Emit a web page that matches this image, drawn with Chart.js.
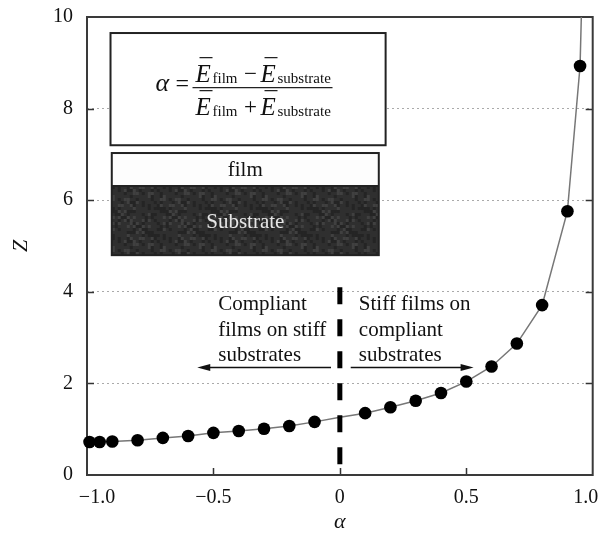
<!DOCTYPE html>
<html><head><meta charset="utf-8">
<script src="https://cdn.jsdelivr.net/npm/chart.js@4/dist/chart.umd.min.js"></script>
<style>html,body{margin:0;padding:0;background:#fff}#wrap{width:599px;height:533px}</style>
</head><body><div id="wrap"><canvas id="c" width="599" height="533"></canvas></div>
<script>
// ---- data ----
const alphaValues = [-0.99,-0.95,-0.9,-0.8,-0.7,-0.6,-0.5,-0.4,-0.3,-0.2,-0.1,0.1,0.2,0.3,0.4,0.5,0.6,0.7,0.8,0.9,0.95];
const zValues     = [0.72,0.72,0.73,0.76,0.81,0.85,0.92,0.96,1.01,1.07,1.16,1.35,1.48,1.62,1.79,2.04,2.37,2.87,3.71,5.76,8.93];
const curveAlpha  = [-0.99,-0.95,-0.9,-0.8,-0.7,-0.6,-0.5,-0.4,-0.3,-0.2,-0.1,0,0.1,0.2,0.3,0.4,0.5,0.6,0.7,0.8,0.9,0.95,0.955];
const curveZ      = [0.72,0.72,0.73,0.76,0.81,0.85,0.92,0.96,1.01,1.07,1.16,1.26,1.35,1.48,1.62,1.79,2.04,2.37,2.87,3.71,5.76,8.93,10];
const dividerAlpha = [0,0];
const dividerZ     = [4.1,0];
const xTickValues = [-1,-0.5,0,0.5,1];
const xTickLabels = ['\u2002\u2002\u22121.0','\u22120.5','0','0.5','1.0\u2002\u2009'];
const yTickValues = [0,2,4,6,8,10];
const yTickLabels = ['0','2','4','6','8','10'];
const leftNote  = ['Compliant','films on stiff','substrates'];
const rightNote = ['Stiff films on','compliant','substrates'];

const SERIF = '"Liberation Serif","Times New Roman",serif';
const pts = (xs, ys) => xs.map((v,i)=>({x:v, y:ys[i]}));

const framePlugin = {
  id:'frame',
  beforeDatasetsDraw(chart){
    const {ctx, chartArea:a, scales:{x,y}} = chart;
    const X = v=>x.getPixelForValue(v), Y = v=>y.getPixelForValue(v);
    ctx.save();
    // inward ticks
    ctx.strokeStyle='#333'; ctx.lineWidth=1.5;
    ctx.beginPath();
    xTickValues.slice(1,-1).forEach(v=>{const p=Math.round(X(v))+0.5; ctx.moveTo(p,a.bottom); ctx.lineTo(p,a.bottom-7);});
    yTickValues.slice(1,-1).forEach(v=>{const p=Math.round(Y(v))+0.5; ctx.moveTo(a.left,p); ctx.lineTo(a.left+7,p); ctx.moveTo(a.right,p); ctx.lineTo(a.right-7,p);});
    ctx.stroke();
    // frame
    ctx.strokeStyle='#3a3a3a'; ctx.lineWidth=2;
    ctx.strokeRect(a.left, a.top, a.right-a.left, a.bottom-a.top);

    // formula box
    const bx0=X(-0.907), bx1=X(0.181), by0=Y(9.65), by1=Y(7.2);
    ctx.fillStyle='#fff'; ctx.fillRect(bx0,by0,bx1-bx0,by1-by0);
    ctx.strokeStyle='#222'; ctx.lineWidth=2; ctx.strokeRect(bx0,by0,bx1-bx0,by1-by0);
    ctx.fillStyle='#111'; ctx.textBaseline='alphabetic'; ctx.textAlign='left';
    ctx.font='italic 26px '+SERIF; ctx.fillText('\u03b1', bx0+45, by0+58);
    ctx.font='24px '+SERIF; ctx.fillText('=', bx0+65, by0+58);
    ctx.lineWidth=1.3; ctx.beginPath(); ctx.moveTo(bx0+82, by0+54.5); ctx.lineTo(bx0+222, by0+54.5); ctx.stroke();
    const row = (base, op) => {
      ctx.font='italic 25px '+SERIF; ctx.fillText('E', bx0+85, base); ctx.fillText('E', bx0+150, base);
      ctx.font='15px '+SERIF; ctx.fillText('film', bx0+102, base+1); ctx.fillText('substrate', bx0+167, base+1);
      ctx.font='23px '+SERIF; ctx.textAlign='center'; ctx.fillText(op, bx0+140, base-1); ctx.textAlign='left';
      ctx.lineWidth=1.2; ctx.beginPath();
      ctx.moveTo(bx0+89, base-24.5); ctx.lineTo(bx0+102, base-24.5);
      ctx.moveTo(bx0+154, base-24.5); ctx.lineTo(bx0+167, base-24.5);
      ctx.stroke();
    };
    row(by0+49, '\u2212');
    row(by0+82, '+');

    // film / substrate box
    const fx0=X(-0.902), fx1=X(0.154), fyTop=Y(7.03), fyMid=Y(6.31), fyBot=Y(4.80);
    ctx.fillStyle='#fdfdfd'; ctx.fillRect(fx0,fyTop,fx1-fx0,fyMid-fyTop);
    ctx.fillStyle='#2f2f2f'; ctx.fillRect(fx0,fyMid,fx1-fx0,fyBot-fyMid);
    // texture (deterministic pattern)
    const cs=3;
    for(let i=0;i*cs<fx1-fx0;i++){
      for(let j=0;j*cs<fyBot-fyMid;j++){
        const h=((i*i*7+j*j*13+i*j*5+i*3+j*11)%17);
        if(h<4){ctx.fillStyle='#242424';} else if(h>13){ctx.fillStyle='#404040';} else continue;
        ctx.fillRect(fx0+i*cs, fyMid+j*cs, Math.min(cs,fx1-fx0-i*cs), Math.min(cs,fyBot-fyMid-j*cs));
      }
    }
    ctx.strokeStyle='#222'; ctx.lineWidth=2;
    ctx.strokeRect(fx0,fyTop,fx1-fx0,fyBot-fyTop);
    ctx.beginPath(); ctx.moveTo(fx0,fyMid); ctx.lineTo(fx1,fyMid); ctx.stroke();
    ctx.textAlign='center'; ctx.textBaseline='middle';
    ctx.font='21px '+SERIF; ctx.fillStyle='#111'; ctx.fillText('film', (fx0+fx1)/2, (fyTop+fyMid)/2+1);
    ctx.fillStyle='#e6e6e6'; ctx.fillText('Substrate', (fx0+fx1)/2, (fyMid+fyBot)/2+2);

    // notes
    ctx.fillStyle='#111'; ctx.textAlign='left'; ctx.textBaseline='alphabetic'; ctx.font='21px '+SERIF;
    const lineZ=[3.61,3.04,2.50];
    leftNote.forEach((t,i)=>ctx.fillText(t, X(-0.481), Y(lineZ[i])));
    rightNote.forEach((t,i)=>ctx.fillText(t, X(0.075), Y(lineZ[i])));
    // arrows
    const ay=Math.round(Y(2.36))+0.5;
    const arrow=(x0,x1)=>{
      const d=Math.sign(x1-x0);
      ctx.strokeStyle='#111'; ctx.lineWidth=1.5;
      ctx.beginPath(); ctx.moveTo(x0,ay); ctx.lineTo(x1-d*10,ay); ctx.stroke();
      ctx.fillStyle='#111'; ctx.beginPath(); ctx.moveTo(x1,ay); ctx.lineTo(x1-d*13,ay-3.5); ctx.lineTo(x1-d*13,ay+3.5); ctx.closePath(); ctx.fill();
    };
    arrow(X(-0.035), X(-0.564));
    arrow(X(0.043), X(0.529));
    ctx.restore();
  }
};

new Chart(document.getElementById('c'), {
  type:'scatter',
  data:{ datasets:[
    {label:'Z', data:pts(alphaValues,zValues), showLine:false, pointRadius:6.3, pointHoverRadius:6.3,
     backgroundColor:'#000', borderColor:'#000', borderWidth:0, order:0, clip:false},
    {label:'divider', data:pts(dividerAlpha,dividerZ), showLine:true, pointRadius:0, borderColor:'#000',
     borderWidth:5, borderDash:[17,15], borderCapStyle:'butt', order:1},
    {label:'curve', data:pts(curveAlpha,curveZ), showLine:true, pointRadius:0, borderColor:'#777',
     borderWidth:1.5, tension:0, order:2}
  ]},
  plugins:[framePlugin],
  options:{
    responsive:false, animation:false,
    layout:{padding:{top:17,right:5,left:0,bottom:0}},
    plugins:{legend:{display:false}, tooltip:{enabled:false}},
    scales:{
      x:{type:'linear', min:-1, max:1,
        afterFit(s){s.height=58; s.paddingLeft=0; s.paddingRight=0;},
        ticks:{stepSize:0.5, padding:11, color:'#111', font:{family:SERIF,size:20},
          callback:(v,i)=>xTickLabels[i]},
        grid:{display:false, drawTicks:false},
        border:{display:false},
        title:{display:true, text:'\u03b1', color:'#111', font:{family:SERIF,size:22,style:'italic',lineHeight:1}, padding:{top:0,bottom:0}}
      },
      y:{type:'linear', min:0, max:10,
        afterFit(s){s.width=87; s.paddingTop=0; s.paddingBottom=0;},
        ticks:{stepSize:2, padding:14, color:'#111', font:{family:SERIF,size:20},
          callback:(v,i)=>yTickLabels[i]},
        grid:{drawTicks:false, lineWidth:1,
          color:c=>(c.tick && (c.tick.value===0||c.tick.value===10))?'rgba(0,0,0,0)':'#aaa'},
        border:{display:false, dash:[2,3]},
        title:{display:true, text:'Z', color:'#111', font:{family:SERIF,size:22,style:'italic'}, padding:{top:8,bottom:0}}
      }
    }
  }
});
</script></body></html>
